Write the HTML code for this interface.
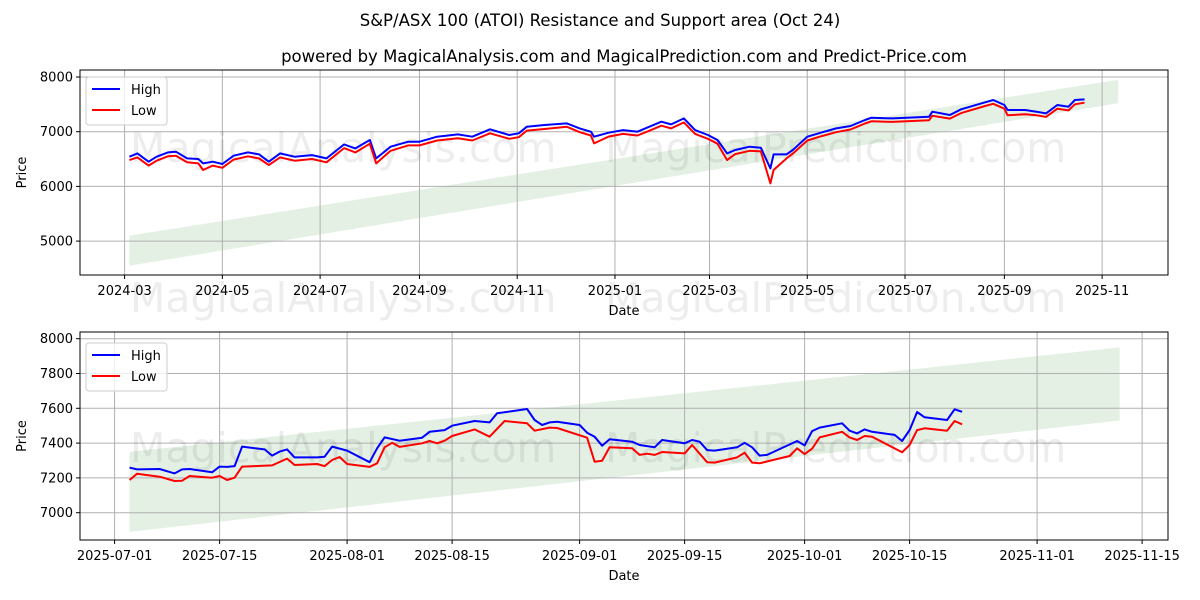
<!DOCTYPE html>
<html><head><meta charset="utf-8"><style>
body{margin:0;background:#fff}
svg{display:block;font-family:"DejaVu Sans","Liberation Sans",sans-serif}
</style></head><body>
<svg id="c" width="1200" height="600" viewBox="0 0 1200 600">
<rect width="1200" height="600" fill="#fff"/>
<text x="600" y="26" text-anchor="middle" font-size="16.5">S&amp;P/ASX 100 (ATOI) Resistance and Support area (Oct 24)</text>
<text x="624" y="62" text-anchor="middle" font-size="16.5">powered by MagicalAnalysis.com and MagicalPrediction.com and Predict-Price.com</text>
<g id="top"></g>
<g id="bot"></g>
</svg>
<script>
// ---- top chart data (days since 2024-03-01) ----
const topHighDays=[3,8,15,20,27,32,39,46,49,55,61,68,77,84,90,97,106,117,126,137,144,153,157,166,177,184,195,208,217,228,240,246,251,262,276,284,291,293,302,311,320,326,335,341,349,356,364,370,376,381,390,397,403,405,413,417,426,435,444,453,462,466,479,488,502,504,515,522,537,542,549,551,562,569,575,582,589,593,599];
const topHighVals=[6543,6604,6451,6543,6622,6634,6512,6500,6421,6451,6409,6561,6622,6585,6451,6604,6543,6573,6512,6768,6695,6848,6512,6726,6817,6817,6909,6951,6909,7043,6939,6970,7091,7122,7152,7061,7000,6909,6982,7030,7000,7073,7183,7134,7244,7030,6939,6848,6604,6665,6726,6707,6329,6585,6585,6665,6909,6988,7061,7104,7213,7256,7244,7256,7274,7366,7305,7409,7537,7579,7488,7396,7396,7366,7335,7488,7457,7579,7591];
const topLowDays=[3,8,15,20,27,32,39,46,49,55,61,68,77,84,90,97,106,117,126,137,144,153,157,166,177,184,195,208,217,228,240,246,251,262,276,284,291,293,302,311,320,326,335,341,349,356,364,370,376,381,390,397,403,405,413,417,426,435,444,453,462,466,479,488,502,504,515,522,537,542,549,551,562,569,575,582,589,593,599];
const topLowVals=[6480,6530,6380,6470,6550,6560,6440,6420,6300,6380,6340,6490,6550,6510,6390,6530,6470,6500,6440,6700,6620,6780,6421,6650,6750,6750,6840,6880,6840,6970,6870,6900,7020,7050,7090,6990,6930,6787,6910,6960,6930,7000,7110,7060,7170,6960,6870,6780,6480,6590,6650,6640,6055,6300,6510,6600,6840,6920,6990,7040,7150,7190,7180,7190,7210,7290,7240,7340,7470,7510,7420,7300,7320,7300,7270,7420,7390,7500,7530];
const topBandDays=[3,620];
const topBandLow=[4550,7520];
const topBandHigh=[5100,7950];
const topYTicks=[5000,6000,7000,8000];
const topXTicks=["2024-03","2024-05","2024-07","2024-09","2024-11","2025-01","2025-03","2025-05","2025-07","2025-09","2025-11"];
// ---- bottom chart data (days since 2025-07-01) ----
const botHighDays=[2,3,6,8,9,10,13,14,15,16,17,20,21,22,23,24,27,28,29,31,34,35,36,38,41,42,44,45,48,50,51,55,56,57,58,59,62,63,64,65,66,69,70,72,73,76,77,78,79,80,83,84,85,86,87,91,92,93,94,97,98,99,100,101,104,105,106,107,108,111,112,113];
const botHighVals=[7259,7249,7251,7226,7249,7251,7232,7265,7263,7268,7380,7364,7328,7351,7364,7318,7318,7322,7380,7357,7290,7370,7433,7414,7431,7465,7475,7500,7527,7519,7571,7596,7533,7504,7519,7523,7504,7460,7437,7385,7422,7408,7389,7376,7418,7399,7418,7408,7360,7357,7376,7402,7376,7328,7332,7412,7387,7469,7489,7514,7471,7456,7479,7465,7447,7412,7475,7579,7548,7533,7594,7580];
const botLowDays=[2,3,6,8,9,10,13,14,15,16,17,21,23,24,27,28,29,30,31,34,35,36,37,38,41,42,43,44,45,48,50,52,55,56,58,59,63,64,65,66,69,70,71,72,73,76,77,79,80,83,84,85,86,90,91,92,93,94,97,98,99,100,101,105,106,107,108,111,112,113];
const botLowVals=[7188,7224,7207,7182,7184,7211,7201,7211,7188,7201,7265,7272,7311,7274,7280,7268,7303,7320,7280,7263,7284,7376,7402,7378,7399,7412,7399,7414,7441,7479,7437,7527,7514,7471,7489,7487,7431,7293,7299,7376,7370,7332,7339,7332,7349,7341,7389,7290,7288,7318,7345,7288,7284,7326,7370,7337,7368,7433,7465,7433,7418,7441,7437,7347,7389,7475,7485,7471,7527,7508];
const botBandDays=[2,134];
const botBandLow=[6890,7530];
const botBandHigh=[7350,7950];
const botYTicks=[7000,7200,7400,7600,7800,8000];
const botXTicks=["2025-07-01","2025-07-15","2025-08-01","2025-08-15","2025-09-01","2025-09-15","2025-10-01","2025-10-15","2025-11-01","2025-11-15"];

const NS="http://www.w3.org/2000/svg";
function mk(parent,tag,attrs){const e=document.createElementNS(NS,tag);for(const k in attrs)e.setAttribute(k,attrs[k]);parent.appendChild(e);return e;}
const DAY=86400000;
function dayOf(s,base){const p=s.split("-").map(Number);return (Date.UTC(p[0],p[1]-1,p[2]||1)-base)/DAY;}

function panel(g,cfg){
  const {x0,x1,y0,y1,xs,ys}=cfg;
  const bd=cfg.bandDays;
  const band=mk(g,"polygon",{points:[[xs(bd[0]),ys(cfg.bandHigh[0])],[xs(bd[1]),ys(cfg.bandHigh[1])],[xs(bd[1]),ys(cfg.bandLow[1])],[xs(bd[0]),ys(cfg.bandLow[0])]].map(p=>p.join(",")).join(" "),fill:"#2e8b2e","fill-opacity":"0.13"});
  
  
  cfg.yTicks.forEach(v=>{
    const y=ys(v);
    const l=mk(g,"line",{x1:x0,x2:x1,y1:y,y2:y,stroke:"#b0b0b0","stroke-width":"1"});
    
    
    mk(g,"line",{x1:x0-4,x2:x0,y1:y,y2:y,stroke:"#000"});
    const t=mk(g,"text",{x:x0-7,y:y+4.5,"text-anchor":"end","font-size":"13"});
    t.textContent=v;
    
    
  });
  cfg.xTicks.forEach(s=>{
    const x=xs(dayOf(s,cfg.base));
    const l=mk(g,"line",{x1:x,x2:x,y1:y0,y2:y1,stroke:"#b0b0b0","stroke-width":"1"});
    
    
    mk(g,"line",{x1:x,x2:x,y1:y1,y2:y1+4,stroke:"#000"});
    const t=mk(g,"text",{x:x,y:y1+20,"text-anchor":"middle","font-size":"13"});
    t.textContent=s;
    
    
  });
  const wm=[["MagicalAnalysis.com",cfg.wmX1],["MagicalPrediction.com",cfg.wmX2]];
  wm.forEach(w=>{
    const t=mk(g,"text",{x:w[1],y:cfg.wmY,"font-size":"41",fill:"#000","fill-opacity":"0.07"});
    t.textContent=w[0];
    
    
  });
  const lines=[[cfg.highDays,cfg.highVals,"#0000ff","high-line"],[cfg.lowDays,cfg.lowVals,"#ff0000","low-line"]];
  lines.forEach(s=>{
    const pts=s[0].map((d,i)=>xs(d).toFixed(1)+","+ys(s[1][i]).toFixed(1)).join(" ");
    const p=mk(g,"polyline",{points:pts,fill:"none",stroke:s[2],"stroke-width":"2","stroke-linejoin":"round"});
    
    
  });
  const fr=mk(g,"rect",{x:x0,y:y0,width:x1-x0,height:y1-y0,fill:"none",stroke:"#000","stroke-width":"1"});
  
  
  const yl=mk(g,"text",{x:0,y:0,"text-anchor":"middle","font-size":"13",transform:`translate(26,${(y0+y1)/2}) rotate(-90)`});
  yl.textContent="Price";
  
  
  const xl=mk(g,"text",{x:(x0+x1)/2,y:y1+40,"text-anchor":"middle","font-size":"13"});
  xl.textContent="Date";
  
  
  const lg=mk(g,"g",{});
  
  
  const ly=cfg.legY;
  mk(lg,"rect",{x:86,y:ly,width:81,height:48,rx:3,fill:"#fff","fill-opacity":"0.8",stroke:"#ccc"});
  [["High","#0000ff",0],["Low","#ff0000",21]].forEach(e=>{
    const eg=mk(lg,"g",{});
    
    
    mk(eg,"line",{x1:92,x2:120,y1:ly+12+e[2],y2:ly+12+e[2],stroke:e[1],"stroke-width":"2"});
    const t=mk(eg,"text",{x:131,y:ly+17+e[2],"font-size":"13"});
    t.textContent=e[0];
  });
}

const baseTop=Date.UTC(2024,2,1), baseBot=Date.UTC(2025,6,1);
panel(document.getElementById("top"),{
  x0:80,x1:1168,y0:70,y1:275,base:baseTop,
  xs:d=>124.6+1.6025*d, ys:v=>131.7-(v-7000)*0.0547,
  yTicks:topYTicks,xTicks:topXTicks,
  bandDays:topBandDays,bandLow:topBandLow,bandHigh:topBandHigh,
  highDays:topHighDays,highVals:topHighVals,lowDays:topLowDays,lowVals:topLowVals,
  wmX1:130,wmX2:605,wmY:162,legY:77
});
panel(document.getElementById("bot"),{
  x0:80,x1:1168,y0:332,y1:540,base:baseBot,
  xs:d=>114.6+7.5*d, ys:v=>512.7-(v-7000)*0.174,
  yTicks:botYTicks,xTicks:botXTicks,
  bandDays:botBandDays,bandLow:botBandLow,bandHigh:botBandHigh,
  highDays:botHighDays,highVals:botHighVals,lowDays:botLowDays,lowVals:botLowVals,
  wmX1:130,wmX2:605,wmY:462,legY:343
});
[["MagicalAnalysis.com",130],["MagicalPrediction.com",605]].forEach(w=>{
  const t=mk(document.getElementById("c"),"text",{x:w[1],y:312,"font-size":"41",fill:"#000","fill-opacity":"0.07"});
  t.textContent=w[0];
  
  
});
</script>
</body></html>
